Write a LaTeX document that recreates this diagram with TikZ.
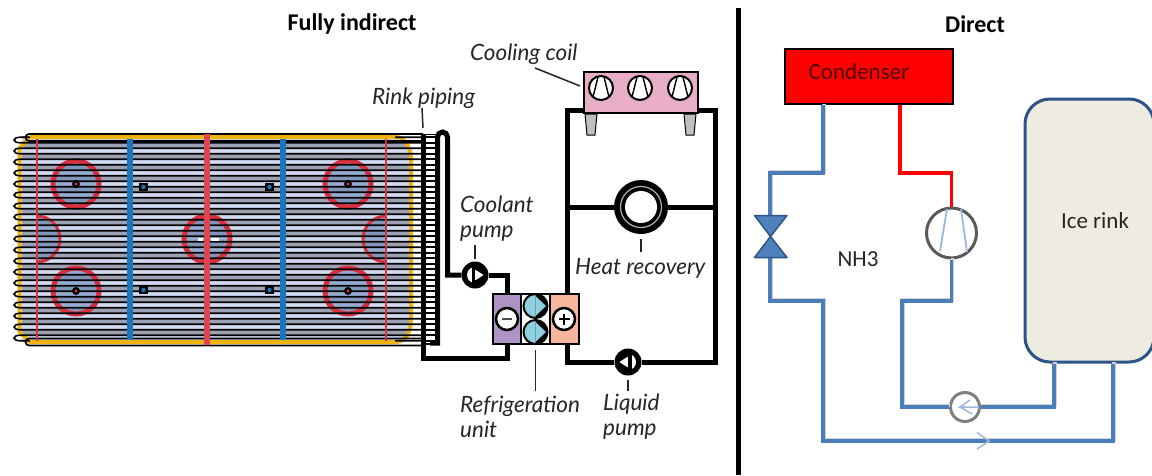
\documentclass[tikz,border=0pt]{standalone}
\usepackage{fontspec}
\setmainfont{Carlito}
\newfontfamily\labfont{Lato}
\usetikzlibrary{calc}
\definecolor{ylw}{HTML}{EEB211}
\definecolor{rred}{HTML}{D9303F}
\definecolor{rblue}{HTML}{1B75BB}
\definecolor{lav}{HTML}{D0DAF2}
\definecolor{tube}{HTML}{9CA2B4}
\definecolor{faceblue}{HTML}{6F8DBE}
\definecolor{pipeblue}{HTML}{4A7EBB}
\definecolor{thinblue}{HTML}{9DB8DE}
\definecolor{rimblue}{HTML}{2C5487}
\definecolor{valveblue}{HTML}{4F81BD}
\definecolor{ringgrey}{HTML}{595959}
\definecolor{ice}{HTML}{EEECE1}
\definecolor{coilpink}{HTML}{E8AEC8}
\definecolor{purp}{HTML}{B093C6}
\definecolor{salmon}{HTML}{F7B59C}
\definecolor{cyanb}{HTML}{8FD0E0}
\tikzset{
  x=1pt,y=-1pt,
  leader/.style={draw=black!85,line width=1.5},
  lab/.style={font=\labfont\itshape\fontsize{22.5}{25}\selectfont,text=black!85,align=left,inner sep=0,anchor=west},
  title/.style={font=\bfseries\fontsize{24}{28}\selectfont,inner sep=0},
  plain/.style={font=\fontsize{23}{26}\selectfont,inner sep=0,text=black!85},
  bpipe/.style={draw=black,line width=5,line join=miter},
  apipe/.style={draw=pipeblue,line width=3.5,line join=miter,
     preaction={draw=black!18,line width=3.5,transform canvas={shift={(1pt,1.5pt)}}}},
  rpipe/.style={draw=red,line width=3.5,line join=miter},
  ring/.style={circle,inner sep=0,minimum size=#1,draw=ringgrey,line width=3,fill=white},
  blackpump/.style={circle,inner sep=0,minimum size=27,fill=black},
  face/.style={fill=faceblue,opacity=.6},
  facering/.style={draw=rred,line width=5},
  box/.style={draw=black,line width=2,inner sep=0},
}
\begin{document}
\begin{tikzpicture}
\clip (0,0) rectangle (1152,475);
\useasboundingbox (0,0) rectangle (1152,475);
\fill[white] (0,0) rectangle (1152,475);

% ---------- rink field
\fill[tube] (22,136) -- (395,136) .. controls (405,136) and (410,146) .. (410,160) -- (410,320) .. controls (410,334) and (405,342) .. (395,342) -- (22,342) -- cycle;
\begin{scope}
\clip (22,136) -- (395,136) .. controls (405,136) and (410,146) .. (410,160) -- (410,320) .. controls (410,334) and (405,342) .. (395,342) -- (22,342) -- cycle;
\foreach \k in {-9,...,9} \fill[lav] (15,{239+11*\k-2.75}) rectangle (420,{239+11*\k+2.75});
\end{scope}
% face-off fills
\foreach \px/\py in {76/184,76/291,348/184,348/291,207/239} \fill[face] (\px,\py) circle (22);
\begin{scope}
\clip (37,200) rectangle (100,280); \fill[face] (37,239) circle (23);
\end{scope}
\begin{scope}
\clip (340,200) rectangle (386,280); \fill[face] (386,239) circle (23);
\end{scope}
\foreach \px/\py in {76/184,76/291,348/184,348/291,207/239} \draw[facering] (\px,\py) circle (23);
\draw[facering,line width=3] (37,216) arc[start angle=-90,end angle=90,radius=23];
\draw[facering,line width=3] (386,216) arc[start angle=270,end angle=90,radius=23];
% yellow edge
\draw[ylw,line width=4,line join=round] (30,137) -- (395,137) .. controls (405,137) and (411,147) .. (411,160) -- (411,320) .. controls (411,333) and (405,342) .. (395,342) -- (30,342) -- (19.5,332) -- (19.5,148) -- (30,137);
% tubes
\foreach \k in {-9,...,9} {
  \draw[black,line width=1.6] (423,{239+11*\k-2.75}) -- (20,{239+11*\k-2.75}) arc[start angle=270,end angle=90,x radius=6,y radius=2.75] -- (423,{239+11*\k+2.75});
}
\draw[black,line width=1.7] (423,134) -- (29,134) arc[start angle=270,end angle=90,radius=3.5] -- (423,141);
\draw[black,line width=1.7] (423,345.5) -- (29,345.5) arc[start angle=90,end angle=270,radius=3.5] -- (423,338.5);
\draw[ylw,line width=3.5] (30,137.5) -- (395,137.5);
\draw[ylw,line width=3.5] (30,342) -- (395,342);
% rink markings
\draw[rred,line width=2] (37,139) -- (37,341);
\draw[rred,line width=2] (386,139) -- (386,341);
\draw[rblue,line width=5.5] (130,139) -- (130,340);
\draw[rblue,line width=5.5] (283,139) -- (283,340);
\draw[rred!90!white,line width=6] (207,134) -- (207,345);
\fill[white] (198,237.5) rectangle (203,240.5);
\fill[white] (211,237.5) rectangle (219,240.5);
\foreach \px/\py in {76/184,76/291,348/184,348/291} {\fill[black] (\px,\py) circle (4); \fill[rred] (\px,\py) circle (1.6);}
\foreach \px/\py in {143.5/187,143.5/290,269.5/187,269.5/290} {\fill[black] (\px-4.5,\py-4) rectangle (\px+4.5,\py+4); \fill[rblue] (\px,\py) circle (2.2);}

% ---------- ladder
\fill[white] (425,134) rectangle (437,345);
\foreach \k in {-9,...,9} {
  \draw[black,line width=1.6] (423,{239+11*\k-2.75}) -- (437,{239+11*\k-2.75});
  \draw[black,line width=1.6] (423,{239+11*\k+2.75}) -- (437,{239+11*\k+2.75});
}
\draw[black,line width=1.6] (423,134.5) -- (437,134.5);
\draw[black,line width=1.6] (423,344) -- (437,344);

% ---------- components left
\node[blackpump] (cpump) at (475,275) {};
\node[blackpump] (lpump) at (628,362) {};
\node[box,fill=purp,minimum width=28,minimum height=50] (cold) at (507,319) {};
\node[box,fill=salmon,minimum width=29,minimum height=50] (hot) at (564.5,319) {};
\node[box,fill=white,minimum width=29,minimum height=50] (comp) at (535.5,319) {};
\node[box,fill=coilpink,minimum width=114,minimum height=41] (coil) at (641,92.5) {};
\node[circle,inner sep=0,minimum size=54,fill=black] (hr) at (641,207) {};

\coordinate (tl) at (423,134);
\coordinate (hp) at (437.5,343);
\coordinate (hq) at (447.5,275);
\coordinate (ul) at (423,358);
\coordinate (lc) at (567,110);
\coordinate (rc) at (715,110);
\coordinate (ll) at (567,362);
\coordinate (lr) at (715,362);

% pipes
\draw[bpipe] (tl) -- (ul) -| (cold.south);
\draw[bpipe] (430,343) -- (hp) -- (437.5,137) arc[start angle=180,end angle=360,radius=5] -- (hq) -- (cpump.west);
\draw[bpipe] (cpump.east) -| (cold.north);
\draw[bpipe] (567,296) -- (lc) -- (coil.west |- lc);
\draw[bpipe] (coil.east |- rc) -- (rc) -- (lr) -- (lpump.east);
\draw[bpipe] (lpump.west) -- (ll) -- (567,344);
\draw[bpipe] (lc |- hr) -- (hr.west);
\draw[bpipe] (hr.east) -- (rc |- hr);
% redraw boxes on top of pipes
\node[box,fill=purp,minimum width=28,minimum height=50] at (507,319) {};
\node[box,fill=salmon,minimum width=29,minimum height=50] at (564.5,319) {};
\node[box,fill=white,minimum width=29,minimum height=50] at (535.5,319) {};
% cooling coil
\node[box,fill=coilpink,minimum width=114,minimum height=41] at (641,92.5) {};
\foreach \cx in {601,640,680} {
  \draw[black,line width=2,fill=white] (\cx,88) circle (12);
  \draw[black,line width=1.4] (\cx-3,77) -- (\cx-8,97);
  \draw[black,line width=1.4] (\cx+3,77) -- (\cx+8,97);
}
\foreach \cx in {591,690} {
  \fill[black!25,draw=black,line width=1] (\cx-6,114) -- (\cx+6,114) -- (\cx+4,135) -- (\cx-4,135) -- cycle;
}
% heat recovery
\draw[white!70!black,line width=1.2] (hr) circle (20.5);
\fill[white] (hr) circle (16);
% refrigeration glyphs
\draw[black,line width=2.5,fill=white] (507,319) circle (11);
\draw[black!70,line width=2.5] (502,319) -- (512,319);
\draw[black,line width=2.5,fill=white] (564,319) circle (11);
\draw[black,line width=2] (558.5,319) -- (569.5,319) (564,313.5) -- (564,324.5);
\foreach \cy in {306,332} {
  \fill[cyanb,draw=black,line width=2] (535.5,\cy) circle (12);
  \fill[black] (535.5,\cy-12) arc[start angle=-90,end angle=90,radius=12] -- cycle;
  \fill[cyanb] (535.5,\cy-10) -- (546,\cy) -- (535.5,\cy+10) -- cycle;
}
% pumps
\fill[white] (cpump) circle (8);
\fill[black] (471.5,267) rectangle (475,283);
\fill[black] (475,267) rectangle (484,270);
\fill[black] (475,280) rectangle (484,283);
\fill[black] (476,270) -- (484,270) -- (484,275) -- cycle;
\fill[black] (476,280) -- (484,280) -- (484,275) -- cycle;
\fill[white] (lpump) circle (8);
\fill[black] (628,354) rectangle (631.5,370);
\fill[black] (619,354) rectangle (628,357);
\fill[black] (619,367) rectangle (628,370);
\fill[black] (627,357) -- (619,357) -- (619,362) -- cycle;
\fill[black] (627,367) -- (619,367) -- (619,362) -- cycle;

% labels left
\node[title] (t1) at (352,24) {Fully indirect};
\node[lab] (l1) at (470,54) {Cooling coil};
\node[lab] (l2) at (372,98) {Rink piping};
\node[lab] (l3) at (460,218.5) {Coolant\\pump};
\node[lab] (l4) at (575,268) {Heat recovery};
\node[lab] (l5) at (460,416.5) {Refrigeration\\unit};
\node[lab] (l6) at (603,416.5) {Liquid\\pump};
\coordinate (k1) at (535,68); \coordinate (k2) at (580,86);
\draw[leader] (k1) -- (k2);
\draw[leader] (422,108) -- (tl |- 0,128);
\draw[leader] (cpump.north) ++(0,-2) -- ++(0,-14);
\draw[leader] (hr.south) ++(0,5) -- ++(0,13);
\draw[leader] (lpump.south) ++(0,4) -- ++(0,11);
\draw[leader] (comp.south) ++(0,5) -- ++(0,41);

% divider
\draw[black,line width=5] (738,8) -- (738,475);
\node[title] (t2) at (975,24) {Direct};

% ---------- direct
\node[box,fill=red,minimum width=168,minimum height=55] (cond) at (869,76.5) {};
\node[plain,text=black!70!red] (condl) at (859,72) {Condenser};
\node[ring=50] (comp2) at (951.5,233) {};
\node[ring=29,line width=3,draw=black!50] (pump2) at (965,407) {};
\node[rounded corners=25,draw=rimblue,line width=3,fill=ice,minimum width=129,minimum height=263,inner sep=0] (rink) at (1089.5,230.5) {};
\node[plain] (icel) at (1095,221) {Ice rink};
\node[plain] (nh) at (858,259) {NH3};
\coordinate (a1) at (823,173); \coordinate (a2) at (770,173);
\coordinate (a3) at (770,301); \coordinate (a4) at (823,301);
\coordinate (a5) at (823,441); \coordinate (a6) at (1113,441);
\coordinate (r1) at (900,173); \coordinate (r2) at (951.5,173);
\coordinate (b1) at (951.5,301); \coordinate (b2) at (902,301);
\coordinate (b3) at (902,407); \coordinate (b4) at (1054,407);

\draw[apipe] (a1 |- cond.south) -- (a1) -- (a2) -- (a2 |- 0,216);
\draw[apipe] (a2 |- 0,258) -- (a3) -- (a4) -- (a5) -- (a6) -- (a6 |- rink.south);
\draw[rpipe] (r1 |- cond.south) -- (r1) -- (r2) -- (comp2.north);
\draw[apipe] (comp2.south) -- (b1) -- (b2) -- (b3) -- (pump2.west);
\draw[apipe] (pump2.east) -- (b4) -- (b4 |- rink.south);

% valve
\fill[valveblue,draw=rimblue,line width=1.5,line join=round] (754.5,215.5) -- (787,215.5) -- (770.5,236.5) -- cycle;
\fill[valveblue,draw=rimblue,line width=1.5,line join=round] (754.5,257.5) -- (787,257.5) -- (770.5,236.5) -- cycle;
% compressor inner lines
\draw[thinblue,line width=1.8] (947,209) -- (940,251);
\draw[thinblue,line width=1.8] (961,209) -- (967,252);
% pump inner arrow
\draw[thinblue,line width=1.5] (979,407) -- (960,407) -- (970,400) (960,407) -- (972,414);
% flow chevron
\draw[thinblue,line width=1.5] (977,432.5) -- (989,441) -- (977,449);
\end{tikzpicture}
\end{document}
